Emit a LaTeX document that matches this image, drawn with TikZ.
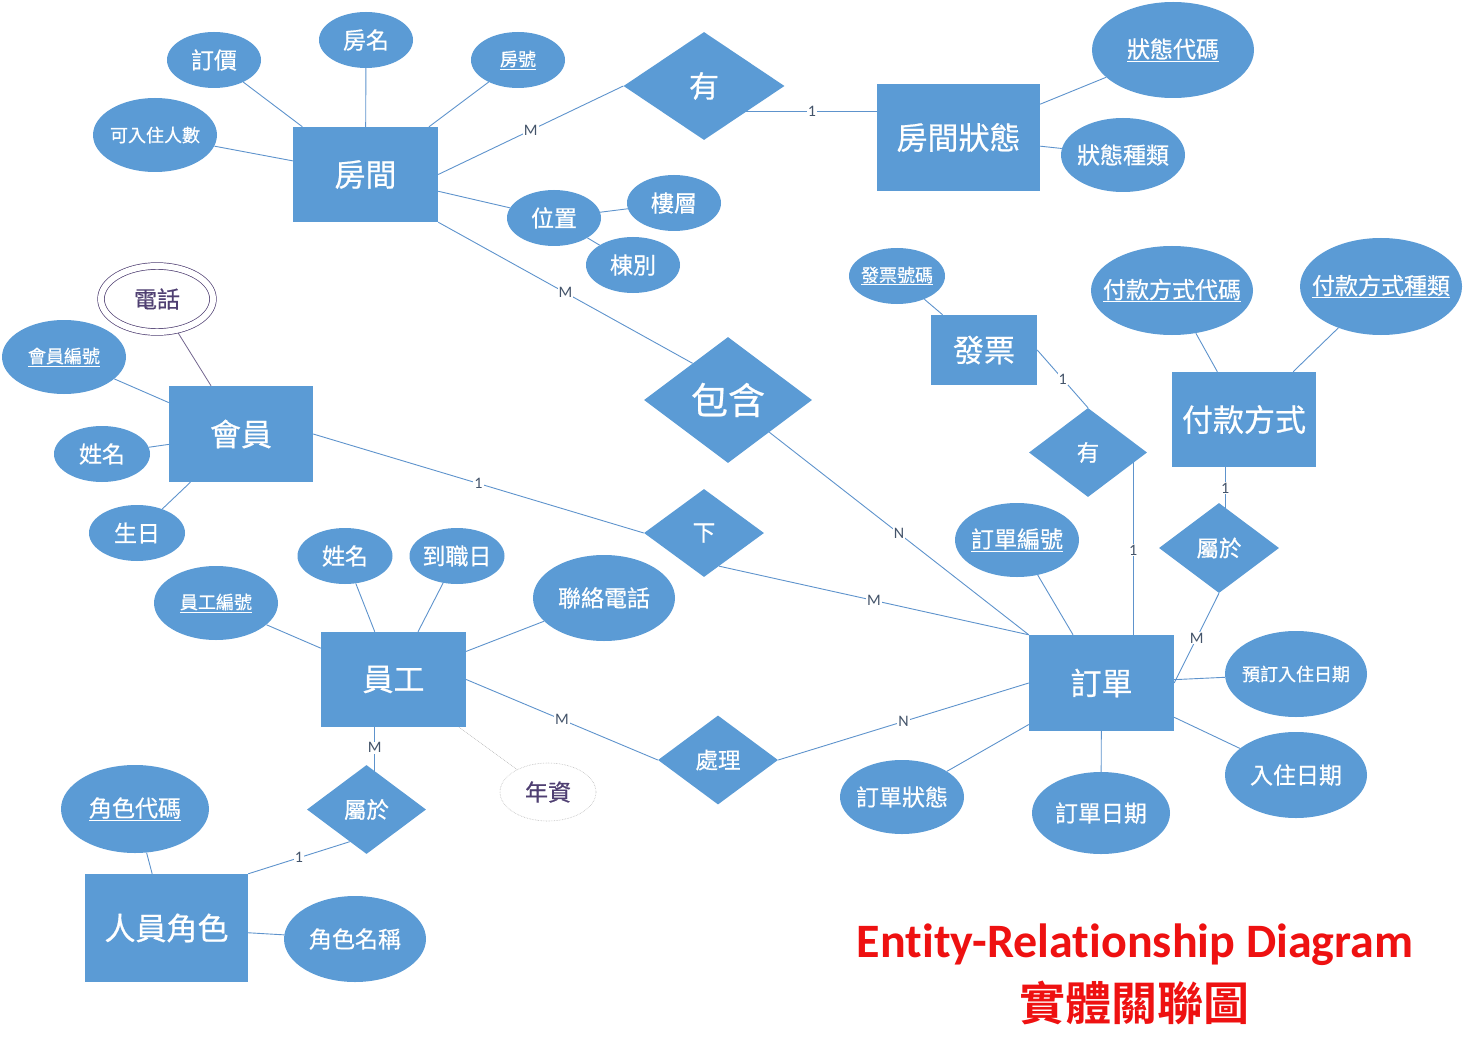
\documentclass[tikz,border=0pt]{standalone}
\usepackage{fontspec}
\setmainfont{Carlito}[Ligatures={NoCommon}]
\newfontfamily\cjk{Noto Sans CJK TC}[FakeBold=0.6]
\newfontfamily\cjkb{Noto Sans CJK TC Bold}
\usetikzlibrary{shapes.geometric,calc,backgrounds}
\definecolor{boxblue}{HTML}{5B9BD5}
\definecolor{connblue}{HTML}{5E93CC}
\definecolor{lblcol}{HTML}{44546A}
\definecolor{txtpurple}{HTML}{4F3F72}
\definecolor{titlered}{HTML}{EE1111}
\newcommand{\zb}[1]{\makebox[0pt]{#1}}
\tikzset{
  ent/.style={rectangle, fill=boxblue, text=white, inner sep=0pt, font=\cjk\fontsize{31}{31}\selectfont},
  attr/.style={ellipse, fill=boxblue, text=white, inner sep=0pt, font=\cjk\fontsize{23}{23}\selectfont},
  sattr/.style={attr, font=\cjk\fontsize{18}{18}\selectfont},
  rel/.style={diamond, fill=boxblue, text=white, inner sep=0pt, font=\cjk\fontsize{22.5}{22.5}\selectfont},
  lbl/.style={fill=white, inner sep=1pt, text=lblcol, font=\fontsize{16}{16}\selectfont},
  conn/.style={draw=connblue, line width=0.9pt},
  sz/.style 2 args={minimum width=#1pt, minimum height=#2pt},
}
\begin{document}
\begin{tikzpicture}[x=1pt,y=-1pt]
\useasboundingbox (0,0) rectangle (1466,1059);

% room
\node[ent, sz={145}{95}] (fj) at (365.5,174.5) {房間};
\node[attr, sz={94}{56}] (dj) at (214,60) {\zb{訂價}};
\node[attr, sz={94}{56}] (fm) at (366,40) {\zb{房名}};
\node[sattr, sz={94}{56}] (fh) at (518,60) {\zb{\underline{房號}}};
\node[sattr, sz={124}{74}] (krz) at (155,135) {\zb{可入住人數}};
\node[rel, sz={161}{108}, font=\cjk\fontsize{30}{30}\selectfont] (you1) at (704,86) {有};
\node[ent, sz={163}{107}] (fjzt) at (958.5,137.5) {房間狀態};
\node[attr, sz={162}{96}] (ztdm) at (1173,50) {\zb{\underline{狀態代碼}}};
\node[attr, sz={124}{74}] (ztzl) at (1123,155) {\zb{狀態種類}};
\node[attr, sz={94}{56}] (wz) at (554,218) {\zb{位置}};
\node[attr, sz={94}{56}] (lc) at (674,203) {\zb{樓層}};
\node[attr, sz={94}{56}] (db) at (633,265) {\zb{棟別}};
\node[rel, sz={168}{126}, font=\cjk\fontsize{37}{37}\selectfont] (bh) at (728,400) {包含};

% member
\node[ellipse, sz={112}{66}, inner sep=0pt, fill=white, draw=txtpurple, line width=0.7pt, double=white, double distance=6pt, text=txtpurple, font=\cjk\fontsize{23}{23}\selectfont] (dh) at (157,299) {\zb{電話}};
\node[sattr, sz={124}{74}] (hybh) at (64,357) {\zb{\underline{會員編號}}};
\node[ent, sz={144}{96}] (hy) at (241,434) {會員};
\node[attr, sz={96}{56}] (xm1) at (102,454) {\zb{姓名}};
\node[attr, sz={96}{56}] (sr) at (137,533) {\zb{生日}};
\node[rel, sz={120}{88}] (xia) at (704,533) {下};

% employee
\node[attr, sz={95}{56}] (xm2) at (345,556) {\zb{姓名}};
\node[attr, sz={95}{56}] (dzr) at (457,556) {\zb{到職日}};
\node[sattr, sz={124}{74}] (ygbh) at (216,603) {\zb{\underline{員工編號}}};
\node[attr, sz={142}{86}] (lldh) at (604,598) {\zb{聯絡電話}};
\node[ent, sz={145}{95}] (yg) at (393.5,679.5) {員工};
\node[rel, sz={120}{89}] (cl) at (718,760) {處理};
\node[ellipse, sz={96}{58}, inner sep=0pt, fill=white, draw=gray!55, densely dotted, line width=0.6pt, text=txtpurple, font=\cjk\fontsize{23}{23}\selectfont] (nz) at (548,792) {\zb{年資}};
\node[rel, sz={119}{89}] (sy1) at (366.5,809.5) {屬於};
\node[attr, sz={148}{88}] (jsdm) at (135,809) {\zb{\underline{角色代碼}}};
\node[ent, sz={163}{108}] (ryjs) at (166.5,928) {人員角色};
\node[attr, sz={142}{86}] (jsmc) at (355,939) {\zb{角色名稱}};

% invoice / payment / order
\node[sattr, sz={96}{56}] (fphm) at (897,276) {\zb{\underline{發票號碼}}};
\node[ent, sz={106}{70}] (fp) at (984,350) {發票};
\node[attr, sz={162}{89}] (fkdm) at (1172,290.5) {\zb{\underline{付款方式代碼}}};
\node[attr, sz={162}{97}] (fkzl) at (1381,286.5) {\zb{\underline{付款方式種類}}};
\node[ent, sz={144}{95}] (fk) at (1244,419.5) {付款方式};
\node[rel, sz={118}{89}] (you2) at (1088,452.5) {有};
\node[rel, sz={120}{90}] (sy2) at (1219,548) {屬於};
\node[attr, sz={124}{74}] (ddbh) at (1017,540) {\zb{\underline{訂單編號}}};
\node[ent, sz={145}{96}] (dd) at (1101.5,683) {訂單};
\node[sattr, sz={142}{86}] (ydrz) at (1296,674) {\zb{預訂入住日期}};
\node[attr, sz={142}{86}] (rzrq) at (1296,775) {\zb{入住日期}};
\node[attr, sz={138}{82}] (ddrq) at (1101,813) {\zb{訂單日期}};
\node[attr, sz={124}{74}] (ddzt) at (902,797) {\zb{訂單狀態}};

% title
\node[text=titlered, font=\bfseries\fontsize{48}{48}\selectfont] (t1) at (1135,945) {Entity-Relationship Diagram};
\node[text=titlered, font=\cjkb\fontsize{46}{46}\selectfont] (t2) at (1134,1003) {實體關聯圖};

% helper coordinates
\coordinate (c1) at ($(fjzt.north west)!0.26!(fjzt.south west)$);
\coordinate (c2) at ($(yg.south west)!0.37!(yg.south east)$);
\coordinate (c3) at ($(fk.south west)!0.37!(fk.south east)$);
\coordinate (c4) at ($(dd.north west)!0.717!(dd.north east)$);
\coordinate (p1) at ($(bh.west)!0.58!(bh.north)$);
\coordinate (p2) at ($(xia.south)!0.25!(xia.east)$);
\coordinate (p3) at ($(sy1.west)!0.72!(sy1.south)$);

\begin{scope}[on background layer]
\draw[conn] (dj) -- (fj);
\draw[conn] (fm) -- (fj);
\draw[conn] (fh) -- (fj);
\draw[conn] (krz) -- (fj);
\draw[conn] (fj.east) -- node[lbl]{M} (you1.west);
\draw[conn] (fj) -- (wz);
\draw[conn] (wz) -- (lc);
\draw[conn] (wz) -- (db);
\draw[conn] (fj.south east) -- node[lbl]{M} (p1);
\draw[conn] (c1) -- node[lbl, pos=0.376]{1} (c1 -| you1.center);
\draw[conn] (fjzt) -- (ztdm);
\draw[conn] (fjzt) -- (ztzl);

\draw[draw=txtpurple!80, line width=0.8pt] (dh) -- (hy);
\draw[conn] (hybh) -- (hy);
\draw[conn] (xm1) -- (hy);
\draw[conn] (sr) -- (hy);
\draw[conn] (hy.east) -- node[lbl]{1} (xia.west);
\draw[conn] (p2) -- node[lbl]{M} (dd.north west);
\draw[conn] (bh) -- node[lbl]{N} (dd.north west);

\draw[conn] (xm2) -- (yg);
\draw[conn] (dzr) -- (yg);
\draw[conn] (ygbh) -- (yg);
\draw[conn] (lldh) -- (yg);
\draw[conn] (yg.east) -- node[lbl]{M} (cl.west);
\draw[draw=gray!50, densely dotted, line width=0.7pt] (yg) -- (nz);
\draw[conn] (c2) -- node[lbl, pos=0.25]{M} (c2 |- sy1.center);
\draw[conn] (p3) -- node[lbl]{1} (ryjs.north east);
\draw[conn] (jsdm) -- (ryjs);
\draw[conn] (jsmc) -- (ryjs);
\draw[conn] (cl.east) -- node[lbl]{N} (dd.west);

\draw[conn] (ddbh) -- (dd);
\draw[conn] (ddzt) -- (dd);
\draw[conn] (ddrq) -- (dd);
\draw[conn] (rzrq) -- (dd);
\draw[conn] (ydrz) -- (dd);
\draw[conn] (sy2.south) -- node[lbl]{M} (dd.east);
\draw[conn] (c3) -- node[lbl, pos=0.26]{1} (c3 |- sy2.center);
\draw[conn] (fkdm) -- (fk);
\draw[conn] (fkzl) -- (fk);
\draw[conn] (fphm) -- (fp);
\draw[conn] (fp.east) -- node[lbl]{1} (you2.north);
\draw[conn] (c4) -- node[lbl, pos=0.466]{1} (c4 |- you2.center);
\end{scope}
\end{tikzpicture}
\end{document}
